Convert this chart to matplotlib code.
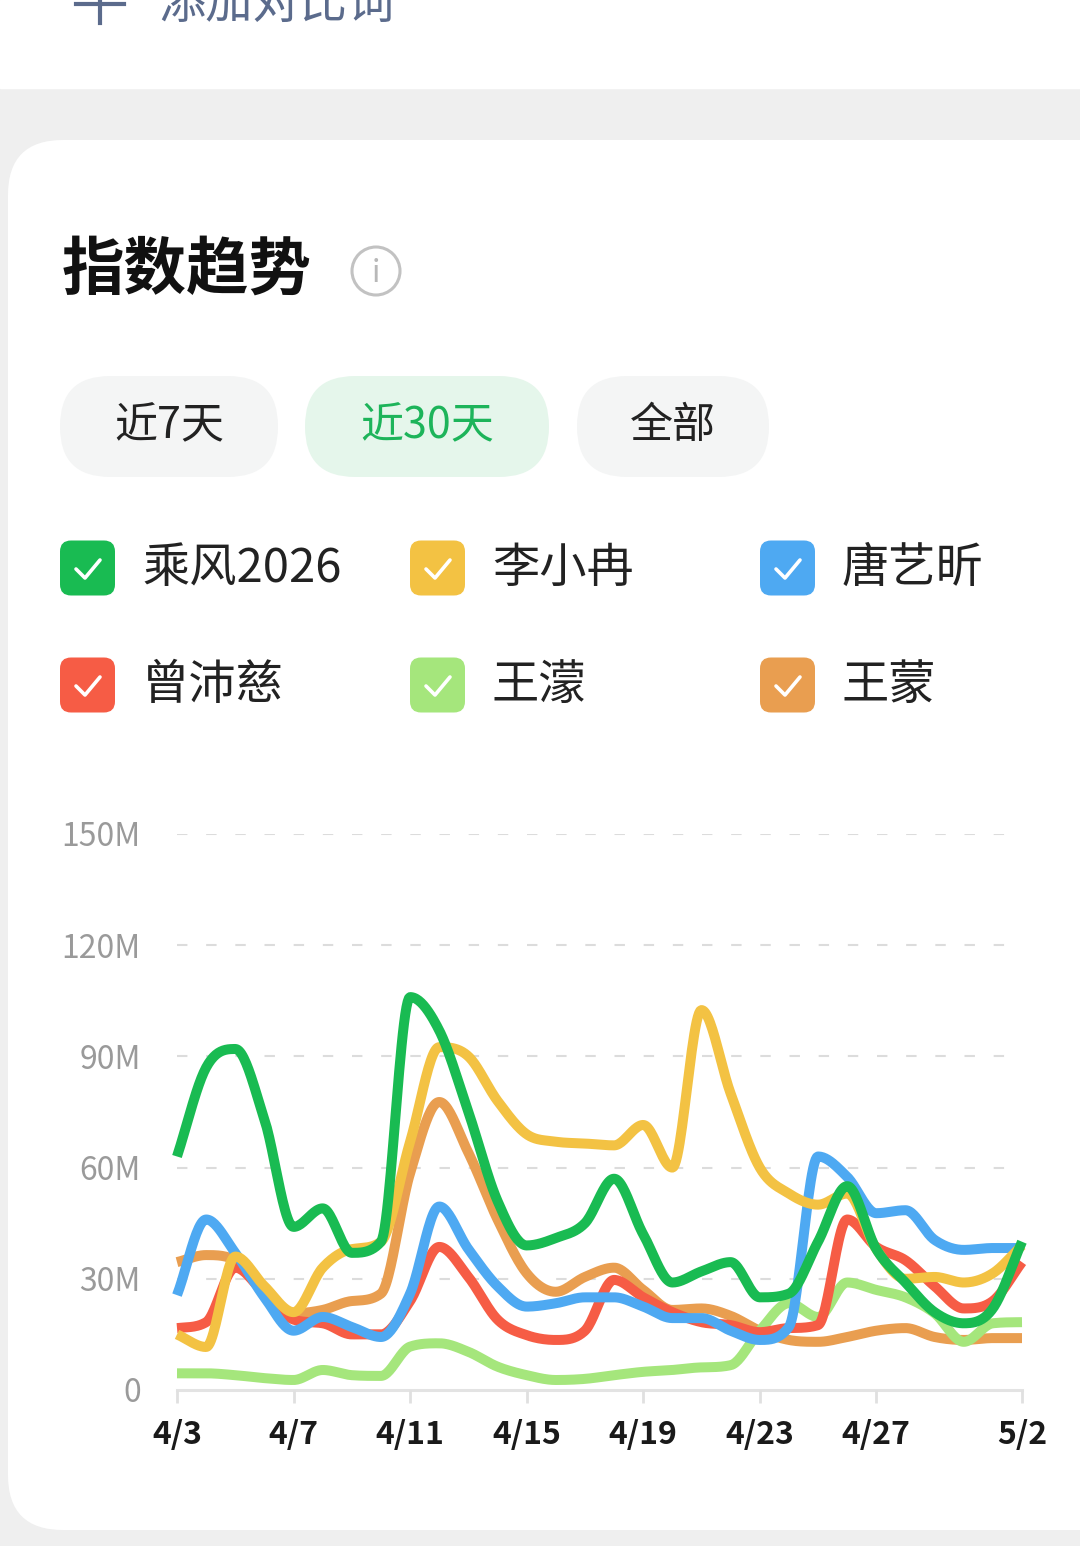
import numpy as np
import matplotlib
matplotlib.use("Agg")
import matplotlib.pyplot as plt
from matplotlib.patches import FancyBboxPatch, Rectangle, Circle

plt.rcParams['font.family'] = ['Noto Sans CJK SC', 'DejaVu Sans']

# 数据 (单位: M)
dates = ["4/3", "4/4", "4/5", "4/6", "4/7", "4/8", "4/9", "4/10", "4/11", "4/12",
         "4/13", "4/14", "4/15", "4/16", "4/17", "4/18", "4/19", "4/20", "4/21", "4/22",
         "4/23", "4/24", "4/25", "4/26", "4/27", "4/28", "4/29", "4/30", "5/1", "5/2"]
tick_dates = ["4/3", "4/7", "4/11", "4/15", "4/19", "4/23", "4/27", "5/2"]
y_ticks = [0, 30, 60, 90, 120, 150]
y_labels = ["0", "30M", "60M", "90M", "120M", "150M"]

names = ["乘风2026", "李小冉", "唐艺昕", "曾沛慈", "王濛", "王蒙"]
colors = ["#19bb52", "#f3c243", "#4ea9f2", "#f65c45", "#a5e67c", "#e99e50"]

chengfeng = [63, 87, 92, 73, 44, 49, 37, 40, 106, 97, 75, 51, 39, 41, 45, 57, 42, 29, 32, 34.5,
             25, 26, 40, 55, 38, 29, 21, 18, 22, 40]
lixiaoran = [15, 11.6, 36, 28, 21, 33, 38, 40, 67, 92.5, 90, 78, 69, 67, 66.5, 66, 71.5, 60, 102.5, 80,
             60, 53, 50, 53, 38, 30, 30.5, 29, 31.5, 39]
tangyixin = [25.6, 46, 37, 25, 16, 19.7, 17, 14.3, 26, 49.5, 38, 28, 22.5, 23.4, 25, 25, 22.5, 19.4, 19.4, 16,
             13.5, 17, 63, 57.5, 47.7, 48.5, 40.5, 37.8, 38.3, 38.3]
zengpeici = [16.7, 18.3, 33, 26, 19, 18, 15, 15, 24, 38.6, 30.5, 19, 14.8, 13.5, 16, 29.7, 25, 21, 18.3, 17.5,
             15.6, 16.7, 17.5, 46, 38.6, 35, 28, 22, 24, 34.5]
wangmeng1 = [4.5, 4.5, 4, 3.2, 2.7, 5.4, 4, 3.8, 11.7, 12.6, 10.3, 6.3, 4, 2.7, 3, 4, 4.9, 5.4, 6.1, 6.7,
             16, 23.4, 19.7, 29, 27, 25, 20.7, 13, 18, 18.3]
wangmeng2 = [34.5, 36.4, 35, 27, 20.7, 21.6, 24, 26, 58.5, 77.7, 64, 46, 31.5, 26.5, 30.5, 33, 27, 21.6, 22, 20,
             16, 13.5, 13, 14.3, 16, 16.7, 14.3, 13.5, 14, 14]

series = [chengfeng, lixiaoran, tangyixin, zengpeici, wangmeng1, wangmeng2]


def smooth(y, n=24):
    # 平滑曲线: 中心差分切线, 极值处切线为0, 限制防止过冲
    y = np.asarray(y, dtype=float)
    d = np.diff(y)
    m = np.zeros(len(y))
    m[0], m[-1] = d[0], d[-1]
    for k in range(1, len(y) - 1):
        if d[k - 1] * d[k] > 0:
            m[k] = (d[k - 1] + d[k]) / 2
    for k in range(len(d)):
        if d[k] == 0:
            m[k] = m[k + 1] = 0
            continue
        a, b = m[k] / d[k], m[k + 1] / d[k]
        s = a * a + b * b
        if s > 9:
            t = 3 / np.sqrt(s)
            m[k], m[k + 1] = t * a * d[k], t * b * d[k]
    xs, ys = [], []
    for k in range(len(y) - 1):
        t = np.linspace(0, 1, n, endpoint=False)
        h00 = 2 * t**3 - 3 * t**2 + 1
        h10 = t**3 - 2 * t**2 + t
        h01 = -2 * t**3 + 3 * t**2
        h11 = t**3 - t**2
        xs.append(k + t)
        ys.append(h00 * y[k] + h10 * m[k] + h01 * y[k + 1] + h11 * m[k + 1])
    xs.append([len(y) - 1])
    ys.append([y[-1]])
    return np.concatenate(xs), np.concatenate(ys)


W, H = 1080, 1546
fig = plt.figure(figsize=(W / 100, H / 100), dpi=100)
fig.patch.set_facecolor("#efefef")

# 背景层, 像素坐标
bg = fig.add_axes([0, 0, 1, 1])
bg.set_xlim(0, W)
bg.set_ylim(H, 0)
bg.axis("off")

bg.add_patch(Rectangle((0, 0), W, 88, color="white", zorder=1))
bg.plot([100, 100], [-20, 23], color="#5b6b8c", lw=3, zorder=2)
bg.plot([76, 124], [4, 4], color="#5b6b8c", lw=3, zorder=2)
bg.text(158, 5, "添加对比词", fontsize=34, color="#5b6b8c", ha="left", va="center", zorder=2)

bg.add_patch(FancyBboxPatch((8, 140), W + 60, 1390, boxstyle="round,pad=0,rounding_size=55",
                            facecolor="white", edgecolor="none", zorder=1))

# 标题
bg.text(62, 270, "指数趋势", fontsize=45, fontweight="bold", color="#111111", ha="left", va="center", zorder=2)
bg.add_patch(Circle((376, 271), 24, facecolor="none", edgecolor="#c2c2c2", lw=2.2, zorder=2))
bg.text(376, 273, "i", fontsize=22, color="#b8b8b8", ha="center", va="center", zorder=3)

# 时间按钮
pills = [("近7天", 60, 218, "#f4f5f5", "#222222"),
         ("近30天", 305, 244, "#e5f6eb", "#1db45a"),
         ("全部", 577, 192, "#f4f5f5", "#222222")]
for label, px, pw, fc, tc in pills:
    bg.add_patch(FancyBboxPatch((px, 376), pw, 101, boxstyle="round,pad=0,rounding_size=50",
                                facecolor=fc, edgecolor="none", zorder=2))
    bg.text(px + pw / 2, 426, label, fontsize=31, color=tc, ha="center", va="center", zorder=3)

# 图例 (勾选框)
for i, (name, c) in enumerate(zip(names, colors)):
    lx = 60 + (i % 3) * 350
    ly = 568 + (i // 3) * 117
    bg.add_patch(FancyBboxPatch((lx, ly - 27.5), 55, 55, boxstyle="round,pad=0,rounding_size=11",
                                facecolor=c, edgecolor="none", zorder=2))
    bg.plot([lx + 16, lx + 25, lx + 40], [ly + 1, ly + 10, ly - 8], color="white", lw=2.6,
            solid_capstyle="round", solid_joinstyle="round", zorder=3)
    bg.text(lx + 82, ly + 1, name, fontsize=34, color="#222222", ha="left", va="center", zorder=3)

# 折线图
x0, x1, y0, y1 = 177, 1022, 1390, 834
ax = fig.add_axes([x0 / W, 1 - y0 / H, (x1 - x0) / W, (y0 - y1) / H])
ax.set_xlim(0, len(dates) - 1)
ax.set_ylim(0, 150)
ax.patch.set_alpha(0)
for s in ax.spines.values():
    s.set_visible(False)

for v in y_ticks[1:]:
    ax.axhline(v, color="#dcdcdc", lw=1.5, dashes=(5, 9), zorder=1)
ax.axhline(0, color="#e3e3e3", lw=2.2, zorder=1, clip_on=False)

for k in range(len(series) - 1, -1, -1):
    xs, ys = smooth(series[k])
    ax.plot(xs, ys, color=colors[k], lw=7.2, solid_capstyle="butt", solid_joinstyle="round",
            zorder=3 + (len(series) - k), clip_on=False)

ax.set_yticks(y_ticks)
ax.set_yticklabels(y_labels)
ax.tick_params(axis="y", length=0, pad=26, labelsize=23, labelcolor="#9a9a9a")
ax.set_xticks([dates.index(d) for d in tick_dates])
ax.set_xticklabels(tick_dates)
ax.tick_params(axis="x", length=9, width=2, color="#e0e0e0", pad=12, labelsize=23,
               labelcolor="#1a1a1a")
for t in ax.get_xticklabels():
    t.set_fontweight("bold")

fig.savefig("out.png", dpi=100)
